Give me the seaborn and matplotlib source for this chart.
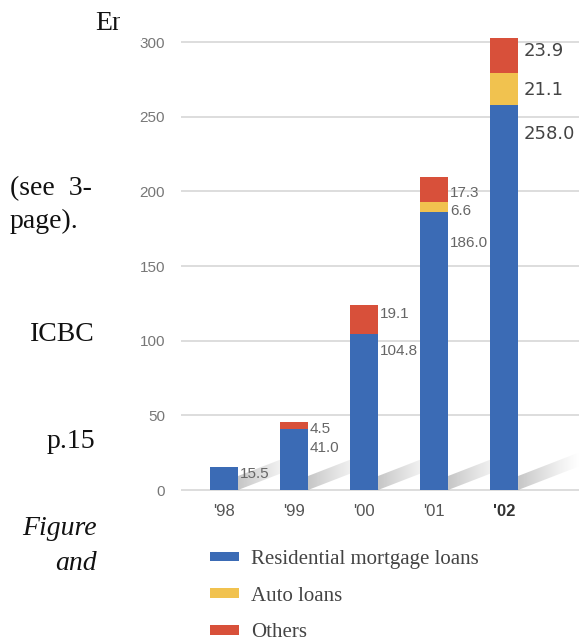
import numpy as np
import pandas as pd
import matplotlib
matplotlib.use("Agg")
import matplotlib.pyplot as plt
import seaborn as sns
from matplotlib.patches import Patch, Polygon, Rectangle

# Consumer loan balances by year (stacked)
years = ["'98", "'99", "'00", "'01", "'02"]
mortgage = [15.5, 41.0, 104.8, 186.0, 258.0]
auto = [0.0, 0.0, 0.0, 6.6, 21.1]
others = [0.0, 4.5, 19.1, 17.3, 23.9]
series_names = ["Residential mortgage loans", "Auto loans", "Others"]
y_ticks = [0, 50, 100, 150, 200, 250, 300]

BLUE = "#3b6bb5"
YELLOW = "#f1c24f"
RED = "#d8503a"

sns.set_style("white")
plt.rcParams["font.family"] = ["Liberation Sans", "DejaVu Sans"]

W, H = 579, 642
fig = plt.figure(figsize=(W / 100, H / 100), dpi=100)
ax = fig.add_axes([181 / W, (H - 494.5) / H, 1 - 181 / W, 467.4 / H])

df = pd.DataFrame({"year": years, "mortgage": mortgage, "auto": auto, "others": others})
df["m_a"] = df["mortgage"] + df["auto"]
df["total"] = df["m_a"] + df["others"]

bw = 0.4
# stacked look: draw cumulative totals back to front
for col, c in [("total", RED), ("m_a", YELLOW), ("mortgage", BLUE)]:
    sns.barplot(data=df, x="year", y=col, color=c, width=bw, saturation=1,
                errorbar=None, linewidth=0, ax=ax, zorder=3)

ax.set_xlim(-0.614, 5.07)
ax.set_ylim(-3, 310)
ax.set_yticks(y_ticks)
ax.set_xlabel("")
ax.set_ylabel("")
for s in ax.spines.values():
    s.set_visible(False)
ax.yaxis.grid(True, color="#dadada", linewidth=1.3)
ax.xaxis.grid(False)
ax.set_axisbelow(True)
ax.tick_params(axis="y", length=0, pad=11.5, labelsize=11, labelcolor="#777777")
ax.tick_params(axis="x", length=0, pad=7, labelsize=12, labelcolor="#555555")
xl = ax.get_xticklabels()
xl[-1].set_fontweight("bold")
xl[-1].set_color("#333333")

# soft diagonal shadows cast from the foot of each bar
to_disp = ax.transData
to_data = ax.transData.inverted()
L, rise, thick = 62, 24, 14
grad = np.zeros((1, 256, 4))
grad[..., :3] = 0.55
grad[..., 3] = 0.5 * (1 - np.linspace(0, 1, 256)) ** 1.2
for i in range(len(years)):
    x0, y0 = to_disp.transform((i + bw / 2, 0))
    pts = np.array([(x0, y0), (x0 + L, y0 + rise), (x0 + L, y0 + rise + thick), (x0, y0 + thick)])
    pd_ = to_data.transform(pts)
    poly = Polygon(pd_, closed=True, facecolor="none", edgecolor="none", transform=ax.transData)
    ax.add_patch(poly)
    im = ax.imshow(grad, extent=[pd_[:, 0].min(), pd_[:, 0].max(), pd_[:, 1].min(), pd_[:, 1].max()],
                   aspect="auto", zorder=2, interpolation="bilinear")
    im.set_clip_path(poly)
ax.set_xlim(-0.614, 5.07)
ax.set_ylim(-3, 310)

# value labels (pixel offsets below each segment top)
blue_off = [7, 19, 17.5, 30.7, 29.2]
auto_off = [0, 0, 0, 8.6, 16.7]
other_off = [0, 7, 9, 16.4, 13.4]
for i in range(len(years)):
    last = i == len(years) - 1
    style = (dict(fontsize=13, color="#444444", family="DejaVu Sans") if last
             else dict(fontsize=11, color="#666666", family="Liberation Sans"))
    dx = 6 if last else 2
    segs = [(mortgage[i], df["mortgage"][i], blue_off[i]),
            (auto[i], df["m_a"][i], auto_off[i]),
            (others[i], df["total"][i], other_off[i])]
    for val, top, off in segs:
        if val <= 0:
            continue
        ax.annotate(f"{val:.1f}", xy=(i + bw / 2, top), xytext=(dx, -off),
                    textcoords="offset pixels", ha="left", va="center", zorder=6, **style)

handles = [Patch(facecolor=c, edgecolor="none") for c in (BLUE, YELLOW, RED)]
fig.legend(handles, series_names, loc="upper left", bbox_to_anchor=(210 / W, 1 - 550 / H),
           frameon=False, borderpad=0, borderaxespad=0, handlelength=1.4, handleheight=0.34,
           handletextpad=0.55, labelspacing=0.85,
           prop={"family": "Liberation Serif", "size": 15}, labelcolor="#444444")

# surrounding page text
def px(x, y):
    return x / W, 1 - y / H

serif = dict(family="Liberation Serif", fontsize=20, color="#111111", va="baseline")
fig.text(*px(10, 195), "(see  3-", ha="left", **serif)
fig.text(*px(10, 228), "page).", ha="left", **serif)
fig.text(*px(95, 341), "ICBC", ha="right", **serif)
fig.text(*px(95, 448), "p.15", ha="right", **serif)
fig.text(*px(97, 535), "Figure", ha="right", style="italic", **serif)
fig.text(*px(97, 570), "and", ha="right", style="italic", **serif)
fig.text(*px(95, 30), "En", ha="left", **serif)
# the chart panel sits over the rest of the heading
fig.patches.append(Rectangle((119.5 / W, 1 - 40 / H), 22 / W, 36 / H, transform=fig.transFigure,
                             facecolor="white", edgecolor="none", zorder=10))

fig.savefig("out.png", dpi=100)
